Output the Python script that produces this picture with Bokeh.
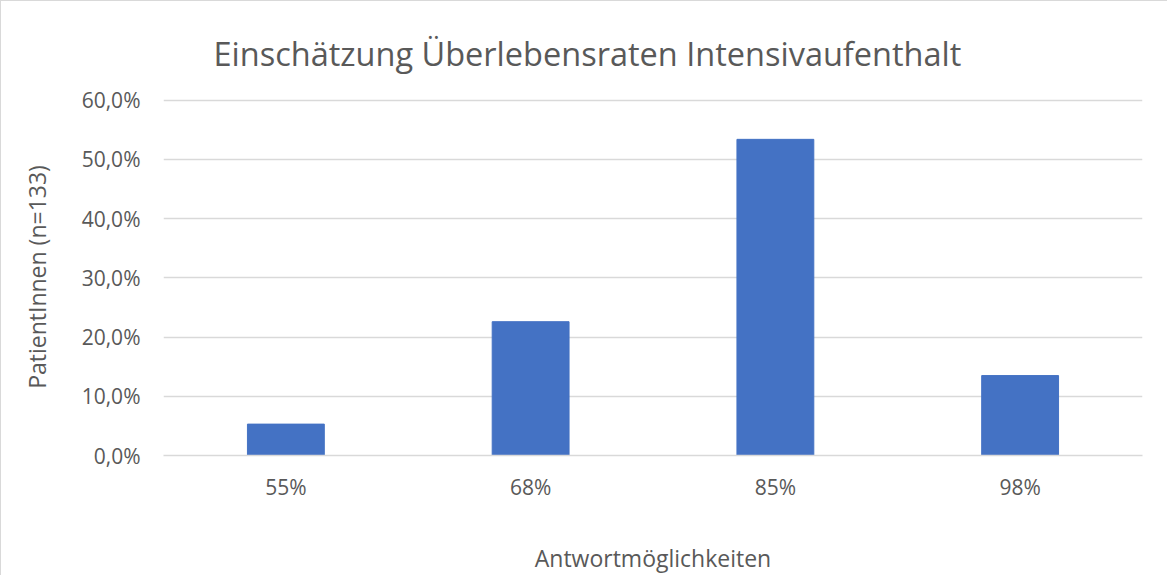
from bokeh.plotting import figure
from bokeh.models import FactorRange, Range1d, FixedTicker, ColumnDataSource
from bokeh.embed import file_html
from bokeh.resources import INLINE

categories = ["55%", "68%", "85%", "98%"]
values = [0.053, 0.226, 0.534, 0.135]
y_ticks = [0.0, 0.1, 0.2, 0.3, 0.4, 0.5, 0.6]
y_tick_labels = ["0,0%", "10,0%", "20,0%", "30,0%", "40,0%", "50,0%", "60,0%"]

title_text = "Einschätzung Überlebensraten Intensivaufenthalt"
y_label = "PatientInnen (n=133)"
x_label = "Antwortmöglichkeiten"

FONT = "Open Sans"
TXT = "#595959"
GRID = "#d9d9d9"

src = ColumnDataSource(dict(cat=categories, val=values))

p = figure(
    x_range=FactorRange(factors=categories, range_padding=0),
    y_range=Range1d(0, 0.603),
    width=1167, height=575,
    output_backend="svg", toolbar_location=None,
    min_border_left=162, min_border_right=26,
    min_border_top=97, min_border_bottom=121,
)
p.styles = {"border-left": f"1px solid {GRID}", "border-top": f"1px solid {GRID}"}

p.vbar(x="cat", top="val", width=0.314, source=src, fill_color="#4472C4", line_color="#4472C4")

p.title.text = title_text
p.title.text_font = FONT
p.title.text_font_size = "32.5px"
p.title.text_font_style = "normal"
p.title.text_color = TXT
p.title.align = "left"
p.title.offset = 50
p.title.standoff = 46

p.outline_line_color = None
p.xgrid.grid_line_color = None
p.ygrid.grid_line_color = GRID
p.ygrid.grid_line_width = 1.3
p.ygrid.ticker = FixedTicker(ticks=y_ticks)

yax = p.yaxis[0]
yax.ticker = FixedTicker(ticks=y_ticks)
yax.major_label_overrides = {t: l for t, l in zip(y_ticks, y_tick_labels)}
yax.axis_line_color = None
yax.major_tick_line_color = None
yax.minor_tick_line_color = None
yax.major_label_standoff = 17
yax.major_label_text_font = FONT
yax.major_label_text_font_size = "21px"
yax.major_label_text_color = TXT
yax.axis_label = y_label
yax.axis_label_text_font = FONT
yax.axis_label_text_font_size = "23px"
yax.axis_label_text_font_style = "normal"
yax.axis_label_text_color = TXT
yax.axis_label_standoff = 26

xax = p.xaxis[0]
xax.axis_line_color = GRID
xax.axis_line_width = 1.3
xax.major_tick_line_color = None
xax.minor_tick_line_color = None
xax.major_label_standoff = 11
xax.major_label_text_font = FONT
xax.major_label_text_font_size = "21px"
xax.major_label_text_color = TXT
xax.axis_label = x_label
xax.axis_label_text_font = FONT
xax.axis_label_text_font_size = "23px"
xax.axis_label_text_font_style = "normal"
xax.axis_label_text_color = TXT
xax.axis_label_standoff = 38

open("out.html", "w").write(file_html(p, INLINE))
